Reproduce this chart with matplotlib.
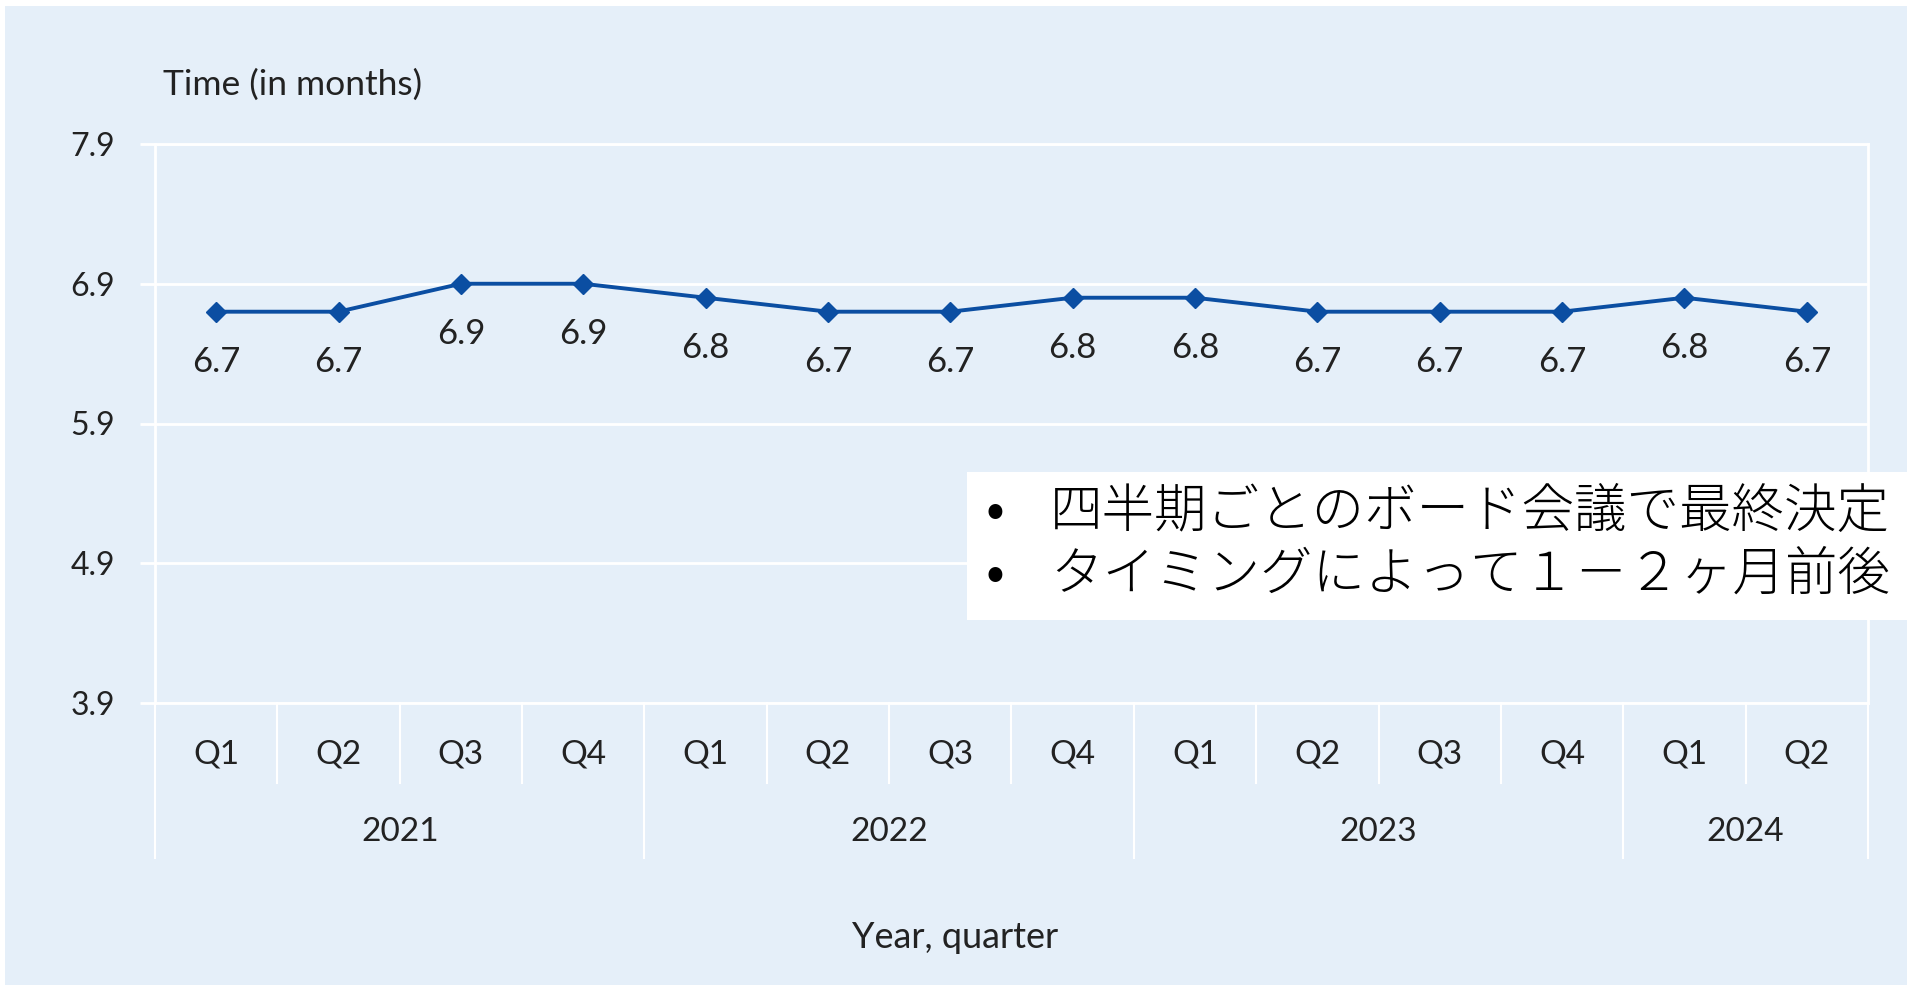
import numpy as np
import matplotlib
matplotlib.use("Agg")
import matplotlib.pyplot as plt
import matplotlib.transforms as mtransforms
from matplotlib.patches import Rectangle

# values
quarters = ["Q1", "Q2", "Q3", "Q4", "Q1", "Q2", "Q3", "Q4", "Q1", "Q2", "Q3", "Q4", "Q1", "Q2"]
months = [6.7, 6.7, 6.9, 6.9, 6.8, 6.7, 6.7, 6.8, 6.8, 6.7, 6.7, 6.7, 6.8, 6.7]
years = ["2021", "2022", "2023", "2024"]
quarters_per_year = [4, 4, 4, 2]
y_ticks = [3.9, 4.9, 5.9, 6.9, 7.9]
notes = ["四半期ごとのボード会議で最終決定", "タイミングによって１－２ヶ月前後"]

BG = "#E5EFF9"
LINE = "#0B4EA2"
TEXT = "#222222"
LATIN = ["Lato", "DejaVu Sans"]
CJK = ["Noto Sans CJK JP", "DejaVu Sans"]

W, H = 1908, 985


def plot_quarterly(fig, ax):
    x = np.arange(len(months))
    ax.set_facecolor(BG)

    # line with diamond markers and value labels under each point
    ax.plot(x, months, color=LINE, lw=2.8, marker="D", ms=10, zorder=3, clip_on=False)
    for xi, v in zip(x, months):
        ax.annotate(f"{v:.1f}", (xi, v), xytext=(0, -36), textcoords="offset points",
                    ha="center", va="center", fontsize=25, color=TEXT, family=LATIN)

    ax.set_xlim(-0.5, len(months) - 0.5)
    ax.set_ylim(y_ticks[0], y_ticks[-1])
    ax.set_yticks(y_ticks)
    ax.set_yticklabels([f"{t:.1f}" for t in y_ticks], fontsize=23, color=TEXT, family=LATIN)
    ax.tick_params(axis="y", length=11, width=2, color="white", pad=18)
    ax.set_xticks([])
    ax.grid(axis="y", color="white", lw=2)
    for s in ax.spines.values():
        s.set_color("white")
        s.set_linewidth(2)

    # two-level category axis: quarters then years
    trans = mtransforms.blended_transform_factory(ax.transData, ax.transAxes)
    year_edges = np.cumsum([0] + quarters_per_year)
    for b in range(len(months) + 1):
        y_end = -0.277 if b in year_edges else -0.143
        ax.plot([b - 0.5, b - 0.5], [0, y_end], color="white", lw=1.5,
                transform=trans, clip_on=False)
    for xi, q in zip(x, quarters):
        ax.text(xi, -0.093, q, transform=trans, ha="center", va="center",
                fontsize=24, color=TEXT, family=LATIN)
    for yr, a, b in zip(years, year_edges[:-1], year_edges[1:]):
        ax.text((a + b - 1) / 2, -0.231, yr, transform=trans, ha="center", va="center",
                fontsize=24, color=TEXT, family=LATIN)

    fig.text(163 / W, 1 - 85 / H, "Time (in months)", ha="left", va="center",
             fontsize=25.5, color=TEXT, family=LATIN)
    fig.text(955 / W, 1 - 937 / H, "Year, quarter", ha="center", va="center",
             fontsize=26, color=TEXT, family=LATIN)


def add_note(fig):
    # white note box on the right, over the plot
    fig.patches.append(Rectangle((967 / W, 1 - 620 / H), 1 - 967 / W, 148 / H,
                                 transform=fig.transFigure, facecolor="white",
                                 edgecolor="none", zorder=5))
    for line, y in zip(notes, [512, 575]):
        fig.text(995 / W, 1 - y / H, "•", ha="center", va="center", fontsize=40,
                 color="black", family=CJK, zorder=6)
        fig.text(1050 / W, 1 - y / H, line, ha="left", va="center", fontsize=37.8,
                 color="black", family=CJK, fontweight="light", zorder=6)


if __name__ == "__main__":
    fig = plt.figure(figsize=(W / 100, H / 100), dpi=100, facecolor="white")
    # light blue background with a thin white edge at top and left
    fig.patches.append(Rectangle((5 / W, 0), 1, 1 - 6 / H, transform=fig.transFigure,
                                 facecolor=BG, edgecolor="none", zorder=-10))
    ax = fig.add_axes([155 / W, 1 - 703 / H, (1868 - 155) / W, (703 - 144) / H])
    plot_quarterly(fig, ax)
    add_note(fig)
    fig.savefig("out.png", dpi=100, facecolor=fig.get_facecolor())
